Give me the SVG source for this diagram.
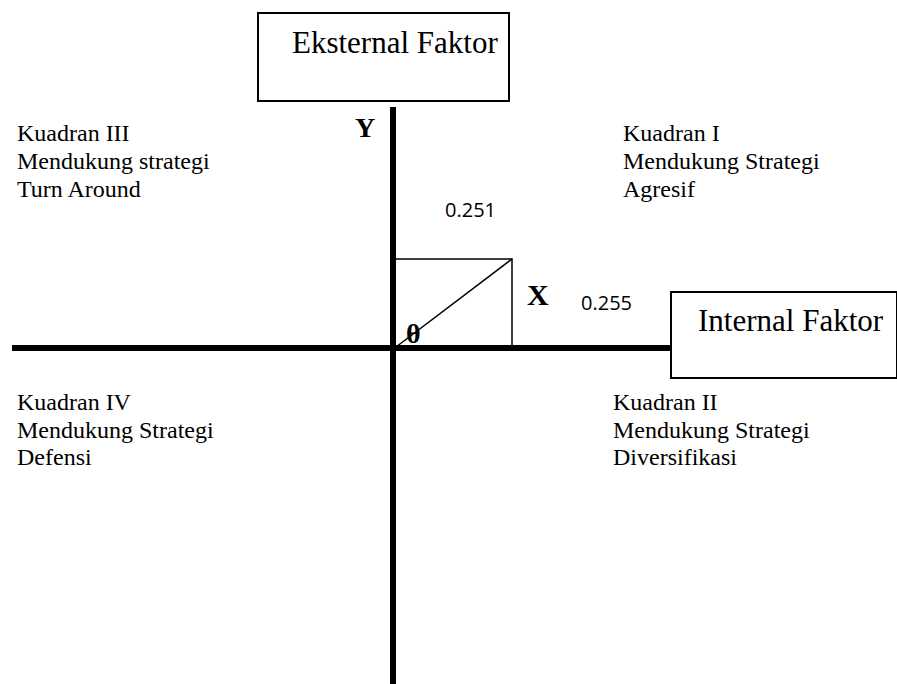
<svg xmlns="http://www.w3.org/2000/svg" width="897" height="684" viewBox="0 0 897 684">
<style>
.box{fill:#fff;stroke:#000;stroke-width:2}
.t{font-family:"Liberation Serif",serif;font-size:24px;fill:#000}
.big{font-family:"Liberation Serif",serif;font-size:31px;fill:#000}
.b{font-family:"Liberation Serif",serif;font-weight:bold;fill:#000}
.n{font-family:"Open Sans","Liberation Sans",sans-serif;font-size:20px;fill:#000}
</style>
<g id="connectors">
<line x1="393" y1="107" x2="393" y2="684" stroke="#000" stroke-width="6"/>
<line x1="12" y1="348" x2="671" y2="348" stroke="#000" stroke-width="6"/>
<polyline points="396,259 512,259 512,348" fill="none" stroke="#000" stroke-width="1.5"/>
<line x1="396" y1="347" x2="512" y2="259" stroke="#000" stroke-width="1.5"/>
</g>
<g id="eksternal">
<rect class="box" x="258" y="13" width="251" height="88"/>
<text class="big" x="292" y="53">Eksternal Faktor</text>
</g>
<g id="internal">
<rect class="box" x="671" y="292" width="226" height="86"/>
<text class="big" x="698" y="331" font-size="32">Internal Faktor</text>
</g>
<g id="labels">
<text class="b" x="355" y="137" font-size="28">Y</text>
<text class="b" x="527" y="305" font-size="30">X</text>
<text class="b" x="406" y="343" font-size="28">θ</text>
<text class="n" x="445" y="217">0.251</text>
<text class="n" x="581" y="310">0.255</text>
</g>
<g id="kuadran3">
<text class="t" x="17" y="141">Kuadran III</text>
<text class="t" x="17" y="169">Mendukung strategi</text>
<text class="t" x="17" y="197">Turn Around</text>
</g>
<g id="kuadran1">
<text class="t" x="623" y="141">Kuadran I</text>
<text class="t" x="623" y="169">Mendukung Strategi</text>
<text class="t" x="623" y="197">Agresif</text>
</g>
<g id="kuadran4">
<text class="t" x="17" y="410">Kuadran IV</text>
<text class="t" x="17" y="438">Mendukung Strategi</text>
<text class="t" x="17" y="465">Defensi</text>
</g>
<g id="kuadran2">
<text class="t" x="613" y="410">Kuadran II</text>
<text class="t" x="613" y="438">Mendukung Strategi</text>
<text class="t" x="613" y="465">Diversifikasi</text>
</g>
</svg>
